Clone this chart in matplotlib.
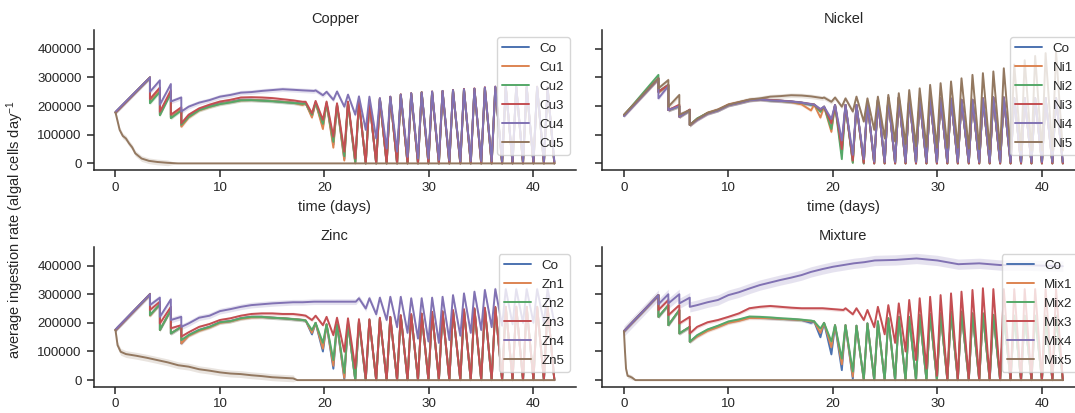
import matplotlib
matplotlib.use("Agg")
import matplotlib.pyplot as plt
import numpy as np
import seaborn as sns
from matplotlib.ticker import FuncFormatter

sns.set_theme(style="ticks")
plt.rcParams["font.family"] = ["Liberation Sans", "DejaVu Sans"]
plt.rcParams["mathtext.fontset"] = "custom"
plt.rcParams["mathtext.rm"] = "Liberation Sans"
plt.rcParams["mathtext.it"] = "Liberation Sans:italic"

# ---- data (values in thousands of algal cells per day) ----
# knot times shared by the non-collapsing series (days)
T_SMOOTH = [0, 3.3, 3.3, 4.25, 4.25, 5.3, 5.3, 6.3, 6.3,
            7, 8, 9, 10, 11, 12, 13, 14, 15, 16, 17, 17.9,
            19, 20, 21, 22, 23, 24, 26, 28, 30, 32, 34, 36, 38, 40, 42]
# feeding events during the oscillating phase (days)
EVENTS = [18.2, 19.15, 20.2, 21.2, 22.25, 23.3, 24.3, 25.3, 26.3, 27.3, 28.3, 29.3,
          30.3, 31.3, 32.3, 33.35, 34.35, 35.35, 36.35, 37.35, 38.35, 39.35, 40.35, 41.35]
T_END = 42

# Copper
cu_labels = ["Co", "Cu1", "Cu2", "Cu3", "Cu4", "Cu5"]
cu_smooth = [
    [178, 300, 218, 255, 172, 248, 162, 188, 132, 165, 188, 200, 210, 215, 222, 222, 220, 218, 215, 212, 208],
    [178, 300, 215, 258, 170, 250, 160, 190, 128, 160, 185, 197, 208, 214, 220, 221, 220, 218, 215, 212, 204],
    [178, 300, 210, 250, 168, 245, 158, 185, 135, 162, 186, 198, 207, 213, 220, 221, 219, 217, 214, 211, 208],
    [178, 300, 225, 265, 180, 255, 170, 196, 140, 170, 192, 205, 216, 222, 230, 231, 230, 228, 224, 220, 215],
    [180, 300, 250, 290, 205, 277, 216, 230, 181, 198, 212, 221, 233, 239, 247, 249, 253, 256, 259, 257, 255, 253],
    None,
]
cu_peaks_a = [210, 212, 210, 205, 212, 214, 218, 225, 232, 240, 244, 248,
              250, 252, 255, 258, 260, 263, 265, 266, 266, 265, 265, 264]
cu_peaks = [
    cu_peaks_a, cu_peaks_a, cu_peaks_a,
    [215, 218, 216, 210, 216, 216, 221, 227, 233, 241, 245, 248,
     251, 253, 256, 260, 262, 266, 268, 270, 270, 268, 268, 266],
    [255, 250, 251, 240, 234, 233, 228, 233, 240, 245, 247, 251,
     253, 256, 259, 261, 265, 268, 268, 268, 268, 267, 266],
    None,
]
cu_troughs = [
    [165, 130, 65, 15, 2, 0, 0, 0, 0, 0, 0, 0, 0, 0, 0, 0, 0, 0, 0, 0, 0, 0, 0, 0],
    [160, 120, 55, 10, 0, 0, 0, 0, 0, 0, 0, 0, 0, 0, 0, 0, 0, 0, 0, 0, 0, 0, 0, 0],
    [170, 138, 75, 25, 5, 0, 0, 0, 0, 0, 0, 0, 0, 0, 0, 0, 0, 0, 0, 0, 0, 0, 0, 0],
    [175, 152, 93, 41, 17, 0, 0, 0, 0, 0, 0, 0, 0, 0, 0, 0, 0, 0, 0, 0, 0, 0, 0, 0],
    [238, 222, 198, 170, 117, 87, 52, 41, 23, 17, 17, 12, 10, 8, 8, 8, 8, 6, 6, 6, 6, 6, 6],
    None,
]
cu_decay_t = [0, 0.1, 0.4, 0.7, 1.0, 1.3, 1.6, 1.9, 2.5, 3.2, 4, 5, 6, 42]
cu_decay_y = [178, 163, 117, 96, 87, 70, 56, 35, 17, 9, 5, 2, 0, 0]
cu_bands = [6, 6, 6, 6, 8, 10]

# Nickel
ni_labels = ["Co", "Ni1", "Ni2", "Ni3", "Ni4", "Ni5"]
ni_smooth = [
    [168, 297, 250, 274, 186, 200, 163, 186, 134, 154, 175, 186, 204, 212, 221, 225, 221, 219, 216, 212, 205],
    [168, 295, 248, 272, 186, 200, 163, 186, 134, 154, 177, 188, 206, 214, 222, 225, 221, 218, 214, 206, 185],
    [168, 309, 250, 274, 186, 200, 163, 186, 134, 157, 176, 186, 204, 212, 221, 224, 220, 218, 215, 211, 205],
    [168, 297, 250, 274, 186, 205, 163, 188, 134, 154, 175, 186, 204, 212, 221, 224, 221, 219, 216, 212, 207],
    [165, 295, 227, 270, 186, 200, 163, 186, 134, 152, 174, 185, 203, 211, 220, 223, 220, 218, 216, 212, 207],
    [170, 297, 262, 291, 198, 239, 170, 186, 134, 155, 176, 188, 205, 214, 223, 227, 233, 235, 238, 237, 234, 228],
]
ni_peaks_a = [205, 198, 204, 204, 204, 215, 221, 228, 230, 230, 227, 227,
              227, 226, 222, 222, 227, 230, 230, 228, 228, 228, 228, 228]
ni_peaks = [
    ni_peaks_a, ni_peaks_a, ni_peaks_a, ni_peaks_a, ni_peaks_a,
    [230, 230, 227, 233, 227, 233, 239, 245, 256, 262, 274, 280,
     286, 297, 309, 315, 321, 332, 345, 360, 375, 385, 390],
]
ni_troughs = [
    [185, 140, 50, 8, 0, 0, 0, 0, 0, 0, 0, 0, 0, 0, 0, 0, 0, 0, 0, 0, 0, 0, 0, 0],
    [160, 110, 35, 3, 0, 0, 0, 0, 0, 0, 0, 0, 0, 0, 0, 0, 0, 0, 0, 0, 0, 0, 0, 0],
    [180, 120, 15, 2, 0, 0, 0, 0, 0, 0, 0, 0, 0, 0, 0, 0, 0, 0, 0, 0, 0, 0, 0, 0],
    [187, 140, 50, 10, 2, 0, 0, 0, 0, 0, 0, 0, 0, 0, 0, 0, 0, 0, 0, 0, 0, 0, 0, 0],
    [190, 155, 80, 30, 15, 6, 5, 5, 5, 5, 5, 5, 5, 5, 5, 5, 5, 5, 5, 5, 5, 5, 5, 5],
    [215, 198, 181, 146, 117, 87, 76, 68, 60, 58, 55, 55, 55, 52, 50, 50, 48, 48, 46, 45, 45, 45, 45],
]
ni_bands = [6, 6, 6, 6, 6, 8]

# Zinc
zn_labels = ["Co", "Zn1", "Zn2", "Zn3", "Zn4", "Zn5"]
zn_smooth = [
    [175, 300, 227, 265, 175, 245, 163, 186, 128, 157, 175, 186, 202, 206, 216, 221, 221, 218, 216, 213, 210],
    [175, 300, 225, 265, 175, 245, 163, 186, 128, 155, 172, 184, 200, 205, 214, 219, 220, 218, 216, 213, 210],
    [175, 300, 227, 265, 175, 245, 163, 186, 140, 157, 175, 186, 202, 206, 216, 221, 221, 218, 216, 213, 210],
    [175, 300, 245, 274, 198, 256, 181, 192, 152, 167, 186, 196, 210, 216, 225, 231, 233, 233, 231, 231, 227],
    [177, 300, 262, 288, 221, 282, 210, 221, 186, 198, 218, 225, 241, 248, 256, 262, 265, 268, 270, 272, 272,
     274, 274, 274, 274, 274],
    None,
]
zn_peaks_a = [208, 200, 195, 195, 198, 205, 210, 215, 220, 225, 228, 231,
              236, 238, 242, 245, 248, 250, 253, 255, 256, 256, 256, 256]
zn_peaks = [
    zn_peaks_a, zn_peaks_a, zn_peaks_a,
    [225, 225, 221, 218, 216, 213, 213, 218, 221, 227, 231, 233,
     239, 241, 245, 248, 251, 253, 256, 257, 257, 256, 256, 255],
    [286, 286, 288, 291, 291, 286, 286, 288, 291, 297, 303, 309, 315, 318, 318, 318, 318, 318, 318],
    None,
]
zn_troughs = [
    [160, 100, 40, 3, 0, 0, 0, 0, 0, 0, 0, 0, 0, 0, 0, 0, 0, 0, 0, 0, 0, 0, 0, 0],
    [165, 110, 50, 8, 0, 0, 0, 0, 0, 0, 0, 0, 0, 0, 0, 0, 0, 0, 0, 0, 0, 0, 0, 0],
    [175, 130, 70, 25, 0, 0, 0, 0, 0, 0, 0, 0, 0, 0, 0, 0, 0, 0, 0, 0, 0, 0, 0, 0],
    [210, 192, 157, 99, 41, 6, 0, 0, 0, 0, 0, 0, 0, 0, 0, 0, 0, 0, 0, 0, 0, 0, 0, 0],
    [250, 230, 210, 185, 165, 145, 135, 130, 140, 155, 165, 175, 185, 190, 195, 200, 200, 200, 200],
    None,
]
zn_decay_t = [0, 0.2, 0.5, 1, 2, 3, 4, 5, 6, 7, 8, 9, 10, 11, 12, 13, 14, 15, 16, 17, 17.4, 42]
zn_decay_y = [175, 122, 99, 91, 85, 78, 70, 62, 52, 47, 38, 33, 27, 23, 21, 17, 14, 10, 8, 6, 0, 0]
zn_bands = [6, 6, 6, 6, 10, 12]

# Mixture
mix_labels = ["Co", "Mix1", "Mix2", "Mix3", "Mix4", "Mix5"]
mix_smooth = [
    [171, 297, 221, 262, 192, 245, 163, 186, 134, 154, 175, 188, 202, 210, 220, 218, 216, 214, 212, 210, 200],
    [171, 297, 221, 262, 192, 245, 163, 186, 134, 152, 172, 185, 200, 207, 217, 217, 216, 214, 212, 210, 205],
    [171, 297, 221, 262, 192, 245, 163, 186, 134, 157, 177, 190, 205, 212, 222, 221, 219, 216, 214, 211, 208],
    [171, 297, 245, 280, 227, 262, 198, 221, 163, 186, 202, 210, 221, 233, 251, 256, 259, 256, 253, 251, 251,
     251, 248, 245],
    [171, 297, 265, 300, 268, 300, 268, 288, 256, 262, 272, 280, 297, 307, 320, 332, 341, 350, 358, 367, 378,
     388, 396, 402, 408, 412, 418, 420, 425, 418, 405, 408, 402, 402, 400, 398],
    None,
]
mix_peaks_a = [205, 200, 192, 192, 190, 198, 205, 216, 221, 221, 227, 231,
               233, 239, 239, 233, 233, 228, 225, 225, 225, 225, 225, 225]
mix_peaks = [
    mix_peaks_a, mix_peaks_a, mix_peaks_a,
    [251, 251, 245, 256, 262, 268, 280, 286, 291, 297, 303, 309, 315, 321, 318, 318, 318, 318, 318, 318, 318],
    [],
    None,
]
mix_troughs = [
    [150, 90, 35, 5, 0, 0, 0, 0, 0, 0, 0, 0, 0, 0, 0, 0, 0, 0, 0, 0, 0, 0, 0, 0],
    [165, 115, 55, 12, 0, 0, 0, 0, 0, 0, 0, 0, 0, 0, 0, 0, 0, 0, 0, 0, 0, 0, 0, 0],
    [180, 135, 75, 30, 3, 0, 0, 0, 0, 0, 0, 0, 0, 0, 0, 0, 0, 0, 0, 0, 0, 0, 0, 0],
    [230, 210, 185, 160, 130, 100, 70, 40, 15, 0, 0, 0, 0, 0, 0, 0, 0, 0, 0, 0, 0],
    [],
    None,
]
mix_decay_t = [0, 0.1, 0.2, 0.35, 0.6, 0.8, 1.1, 42]
mix_decay_y = [171, 100, 40, 15, 12, 8, 0, 0]
mix_bands = [6, 6, 6, 6, 18, 8]

RISE = 0.35  # time from trough back up to the next peak


def build(smooth, peaks, troughs):
    t = list(T_SMOOTH[:len(smooth)])
    y = list(smooth)
    ev = [e for e in EVENTS if e > t[-1]]
    assert len(ev) == len(peaks) == len(troughs), (len(ev), len(peaks), len(troughs))
    for i, e in enumerate(ev):
        nxt = ev[i + 1] if i + 1 < len(ev) else T_END + RISE
        t += [e, nxt - RISE]
        y += [peaks[i], troughs[i]]
    return np.array(t, dtype=float), np.array(y, dtype=float) * 1000


colors = sns.color_palette("deep")[:6]

fig = plt.figure(figsize=(10.75, 4.13), dpi=100)
positions = [
    [0.087, 0.5884, 0.4491, 0.3378],
    [0.560, 0.5884, 0.4491, 0.3378],
    [0.087, 0.0637, 0.4491, 0.3375],
    [0.560, 0.0637, 0.4491, 0.3375],
]
panels = [
    ("Copper", cu_labels, cu_smooth, cu_peaks, cu_troughs, (cu_decay_t, cu_decay_y), cu_bands),
    ("Nickel", ni_labels, ni_smooth, ni_peaks, ni_troughs, None, ni_bands),
    ("Zinc", zn_labels, zn_smooth, zn_peaks, zn_troughs, (zn_decay_t, zn_decay_y), zn_bands),
    ("Mixture", mix_labels, mix_smooth, mix_peaks, mix_troughs, (mix_decay_t, mix_decay_y), mix_bands),
]

for idx, (pos, panel) in enumerate(zip(positions, panels)):
    title, labels, smooth, peaks, troughs, decay, bands = panel
    ax = fig.add_axes(pos)
    for k, lab in enumerate(labels):
        if smooth[k] is None:
            t = np.array(decay[0], dtype=float)
            y = np.array(decay[1], dtype=float) * 1000
        else:
            t, y = build(smooth[k], peaks[k], troughs[k])
        hw = bands[k] * 1000 * (y > 0)
        ax.fill_between(t, y - hw, y + hw, color=colors[k], alpha=0.2, lw=0)
        ax.plot(t, y, color=colors[k], lw=1.4, label=lab)

    ax.set_xlim(-2.1, 44.1)
    ax.set_ylim(-23000, 464000)
    ax.set_xticks([0, 10, 20, 30, 40])
    ax.set_yticks([0, 100000, 200000, 300000, 400000])
    ax.yaxis.set_major_formatter(FuncFormatter(lambda v, p: f"{int(v)}"))
    ax.tick_params(length=5.3, width=1.1, labelsize=9.6, pad=3.2, colors=".15")
    for s in ax.spines.values():
        s.set_linewidth(1.1)
        s.set_color(".15")
    sns.despine(ax=ax)
    if idx % 2 == 1:
        ax.tick_params(labelleft=False)
    ax.set_title(title, fontsize=10.5, pad=5.3, color=".15")
    if idx < 2:
        ax.set_xlabel("time (days)", fontsize=10.5, labelpad=4.5, color=".15")
    ax.legend(loc="upper right", fontsize=9.6)

fig.text(0.014, 0.444, "average ingestion rate (algal cells day$^{-1}$",
         rotation=90, ha="center", va="center", fontsize=10.5, color=".15")

fig.savefig("out.png", dpi=100)
